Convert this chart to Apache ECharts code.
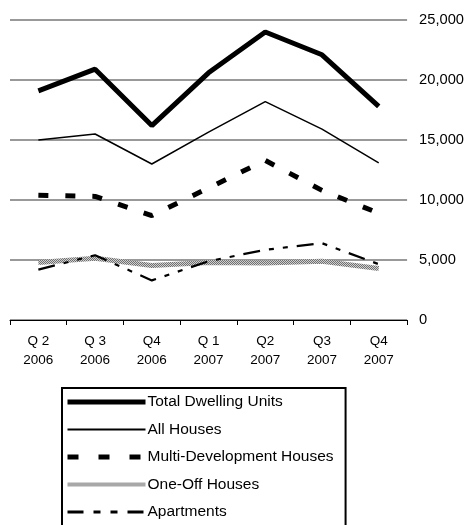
<!DOCTYPE html>
<html><head><meta charset="utf-8">
<script src="https://cdn.jsdelivr.net/npm/echarts@6/dist/echarts.min.js"></script>
<style>html,body{margin:0;padding:0;background:#fff}#c{width:467px;height:525px}</style>
</head><body><div id="c"></div>
<script>
const categories = ['Q 2\n2006','Q 3\n2006','Q4\n2006','Q 1\n2007','Q2\n2007','Q3\n2007','Q4\n2007'];
const totalDwelling = [19100, 20900, 16200, 20600, 24000, 22100, 17800];
const allHouses = [15000, 15500, 13000, 15650, 18200, 15900, 13100];
const multiDev = [10400, 10300, 8700, 11000, 13300, 10800, 8900];
const oneOff = [4800, 5150, 4550, 4800, 4750, 4900, 4300];
const apartments = [4200, 5400, 3300, 4900, 5850, 6400, 4650];
const yTicks = [0, 5000, 10000, 15000, 20000, 25000];
const seriesNames = ['Total Dwelling Units','All Houses','Multi-Development Houses','One-Off Houses','Apartments'];

// checker texture for One-Off Houses
const pc = document.createElement('canvas');
pc.width = 2; pc.height = 2;
const pctx = pc.getContext('2d');
pctx.fillStyle = '#d0d0d0'; pctx.fillRect(0,0,2,2);
pctx.fillStyle = '#707070'; pctx.fillRect(0,0,1,1); pctx.fillRect(1,1,1,1);
const texture = {image: pc, repeat: 'repeat'};

const chart = echarts.init(document.getElementById('c'));
const font = 'Liberation Sans, Arial, sans-serif';
const lineStyles = [
  {color: '#000', width: 5},
  {color: '#000', width: 1.5},
  {color: '#000', width: 5, type: [10, 17]},
  {color: texture, width: 5},
  {color: '#000', width: 2.2, type: [17, 9, 5, 9, 5, 9]}
];
const legendLineStyles = [
  {color: '#000', width: 5},
  {color: '#000', width: 2},
  {color: '#000', width: 5, type: [11, 20]},
  {color: '#a8a8a8', width: 4},
  {color: '#000', width: 3, type: [16, 10, 7, 10, 7, 10]}
];
chart.setOption({
  animation: false,
  textStyle: {fontFamily: font},
  grid: {left: 10, right: 59, top: 20, bottom: 205},
  xAxis: {
    type: 'category', data: categories, boundaryGap: true,
    axisLine: {lineStyle: {color: '#000', width: 1}},
    axisTick: {show: true, length: 5, lineStyle: {color: '#000'}},
    axisLabel: {color: '#000', fontSize: 13.5, margin: 12, lineHeight: 19, fontFamily: font}
  },
  yAxis: {
    type: 'value', position: 'right', min: yTicks[0], max: yTicks[yTicks.length-1], interval: 5000,
    axisLine: {show: false}, axisTick: {show: false},
    splitLine: {lineStyle: {color: '#999', width: 2}},
    axisLabel: {color: '#000', fontSize: 14.7, margin: 12, fontFamily: font,
      formatter: v => v.toLocaleString('en-US')}
  },
  legend: {
    orient: 'vertical', left: 62, top: 388, height: 200,
    backgroundColor: '#fff', borderColor: '#000', borderWidth: 2,
    padding: [6, 12, 20, 3], itemGap: 11.5, itemWidth: 78, itemHeight: 16,
    textStyle: {color: '#000', fontSize: 15.5, lineHeight: 16, fontFamily: font, padding: [0,0,0,-3]},
    itemStyle: {opacity: 0},
    data: seriesNames.map((n, i) => ({name: n, lineStyle: legendLineStyles[i], itemStyle: {opacity: 0}}))
  },
  series: seriesNames.map((n, i) => ({
    name: n, type: 'line', symbol: 'none',
    data: [totalDwelling, allHouses, multiDev, oneOff, apartments][i],
    lineStyle: lineStyles[i], itemStyle: {color: i === 3 ? '#a0a0a0' : '#000'}
  }))
});
</script></body></html>
